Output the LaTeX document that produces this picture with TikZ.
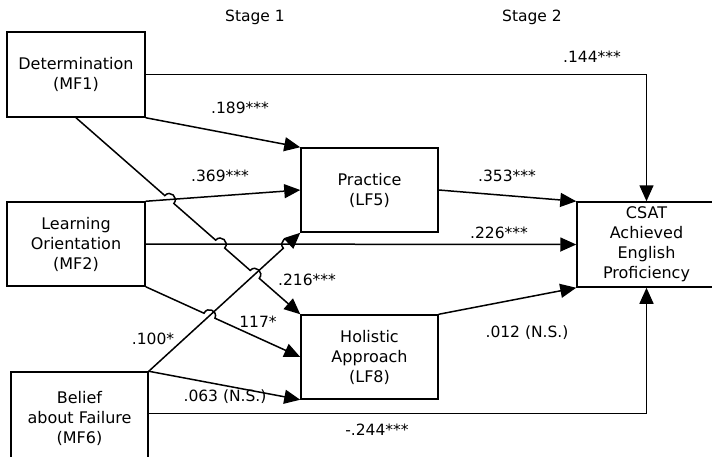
\documentclass[tikz,border=0pt]{standalone}
\usepackage{fontspec}
\setmainfont{DejaVu Sans}
\usetikzlibrary{arrows.meta,calc,intersections}

\begin{document}
\begin{tikzpicture}[x=1pt,y=-1pt,
		box/.style={draw,line width=1.5pt,align=center,inner sep=0pt,font=\fontsize{16}{20}\selectfont},
		link/.style={line width=1.5pt,-{Triangle[length=16pt,width=14pt]}},
		val/.style={font=\fontsize{15.5}{19}\selectfont,inner sep=0pt},
		hop/.style={bend left=90,looseness=1.7}]
		\useasboundingbox (0,0) rectangle (712,456);
		%Stages
		\node[val] (st1) at (255,17) {Stage 1};
		\node[val] (st2) at (532,17) {Stage 2};
		%Boxes
		\node[box,minimum width=138,minimum height=85] (mf1) at (76,74.5) {Determination\\(MF1)};
		\node[box,minimum width=138,minimum height=84] (mf2) at (76,244) {Learning\\Orientation\\(MF2)};
		\node[box,minimum width=137,minimum height=92] (mf6) at (79.5,418) {Belief\\about Failure\\(MF6)};
		\node[box,minimum width=137,minimum height=84] (lf5) at (369.5,190) {Practice\\(LF5)};
		\node[box,minimum width=137,minimum height=84] (lf8) at (369.5,357) {Holistic\\Approach\\(LF8)};
		\node[box,minimum width=139,minimum height=85] (csat) at (646.5,244.5) {CSAT\\Achieved\\English\\Proficiency};
		\coordinate (mf6out) at ($(mf6.north east)+(0,42)$);
		%Crossings
		\path[name path=p3] (mf1.south) -- (lf8.north west);
		\path[name path=p4] (mf2.north east) -- (lf5.west);
		\path[name path=p5] (mf2.east) -- (csat.west);
		\path[name path=p6] (mf2.south east) -- (lf8.west);
		\path[name path=p7] (mf6.north east) -- (lf5.south west);
		\path[name intersections={of=p3 and p4,by=c34}];
		\path[name intersections={of=p3 and p5,by=c35}];
		\path[name intersections={of=p3 and p7,by=c37}];
		\path[name intersections={of=p6 and p7,by=c67}];
		\path[name intersections={of=p7 and p5,by=c75}];
		%Paths
		\draw[link] (mf1.east) -| (csat.north);
		\draw[link] (mf1.south east) -- (lf5.north west);
		\draw[link] (mf1.south) -- ($(c34)!6pt!(mf1.south)$) to[hop] ($(c34)!6pt!(lf8.north west)$)
			-- ($(c35)!6pt!(mf1.south)$) to[hop] ($(c35)!6pt!(lf8.north west)$)
			-- ($(c37)!6pt!(mf1.south)$) to[hop] ($(c37)!6pt!(lf8.north west)$) -- (lf8.north west);
		\draw[link] (mf2.north east) -- (lf5.west);
		\draw[link] (mf2.east) -- (csat.west);
		\draw[link] (mf2.south east) -- ($(c67)!6pt!(mf2.south east)$) to[hop] ($(c67)!6pt!(lf8.west)$) -- (lf8.west);
		\draw[link] (mf6.north east) -- ($(c75)!6pt!(mf6.north east)$) to[hop] ($(c75)!6pt!(lf5.south west)$) -- (lf5.south west);
		\draw[link] (mf6.north east) -- (lf8.south west);
		\draw[link] (mf6out) -| (csat.south);
		\draw[link] (lf5.east) -- (csat.north west);
		\draw[link] (lf8.north east) -- (csat.south west);
		%Values
		\node[val] (v144) at (592,57) {.144***};
		\node[val] (v189) at (240,108) {.189***};
		\node[val] (v369) at (220,176) {.369***};
		\node[val] (v216) at (307,280) {.216***};
		\node[val] (v226) at (499,233) {.226***};
		\node[val] (v117) at (258,322) {117*};
		\node[val] (v100) at (153,339) {.100*};
		\node[val] (v063) at (225,397) {.063 (N.S.)};
		\node[val] (v353) at (507,176) {.353***};
		\node[val] (v012) at (527,333) {.012 (N.S.)};
		\node[val] (v244) at (377,430) {-.244***};
\end{tikzpicture}
\end{document}
